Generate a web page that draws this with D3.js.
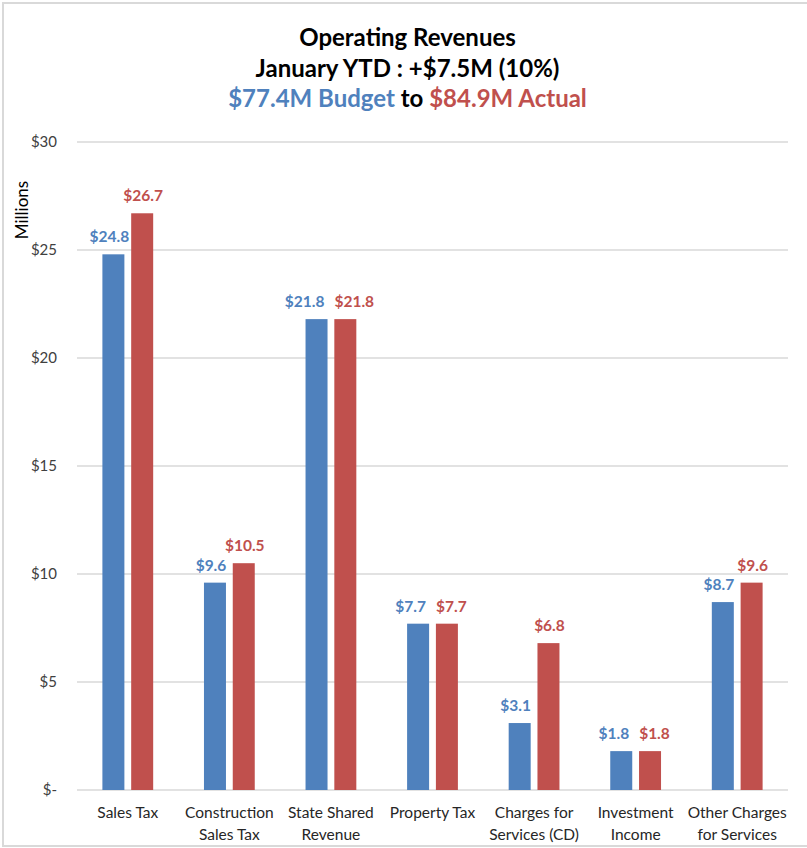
<!DOCTYPE html>
<html>
<head>
<meta charset="utf-8">
<script src="https://cdn.jsdelivr.net/npm/d3@7"></script>
<style>
  html, body { margin: 0; padding: 0; background: #fff; }
  svg { display: block; font-family: Lato, "Open Sans", sans-serif; }
</style>
</head>
<body>
<svg id="chart" width="807" height="848"></svg>
<script>
// Operating revenues by source, January YTD (millions of dollars)
const categories = [
  ["Sales Tax"],
  ["Construction", "Sales Tax"],
  ["State Shared", "Revenue"],
  ["Property Tax"],
  ["Charges for", "Services (CD)"],
  ["Investment", "Income"],
  ["Other Charges", "for Services"]
];
const budget = [24.8, 9.6, 21.8, 7.7, 3.1, 1.8, 8.7];
const actual = [26.7, 10.5, 21.8, 7.7, 6.8, 1.8, 9.6];
const seriesNames = ["Budget", "Actual"];
const yTicks = [0, 5, 10, 15, 20, 25, 30];
const titleLines = ["Operating Revenues", "January YTD : +$7.5M (10%)"];
const subtitleParts = [["$77.4M Budget", "Budget"], [" to ", null], ["$84.9M Actual", "Actual"]];

const colors = { Budget: "#4f81bd", Actual: "#c0504d" };

const svg = d3.select("#chart");
const W = 807, H = 848;
const margin = { top: 142, right: 19, bottom: 58, left: 77 };
const plotW = W - margin.left - margin.right;
const plotH = H - margin.top - margin.bottom;

// outer frame
svg.append("rect")
  .attr("x", 3).attr("y", 3)
  .attr("width", W + 10).attr("height", H - 5)
  .attr("fill", "none").attr("stroke", "#d9d9d9").attr("stroke-width", 2);

// titles
const title = svg.append("g").attr("text-anchor", "middle").attr("font-weight", "bold");
title.selectAll("text.t").data(titleLines).join("text")
  .attr("class", "t")
  .attr("x", W / 2 + 4)
  .attr("y", (d, i) => 46 + i * 31)
  .attr("font-size", 24)
  .attr("fill", "#000")
  .text(d => d);
const sub = title.append("text")
  .attr("x", W / 2 + 4).attr("y", 107).attr("font-size", 24);
sub.selectAll("tspan").data(subtitleParts).join("tspan")
  .attr("fill", d => d[1] ? colors[d[1]] : "#000")
  .text(d => d[0]);

const g = svg.append("g").attr("transform", `translate(${margin.left},${margin.top})`);

const y = d3.scaleLinear().domain([0, 30]).range([plotH, 0]);
const x0 = d3.scaleBand().domain(d3.range(categories.length))
  .range([0, plotW]).paddingInner(0.5).paddingOuter(0.25);
const x1 = d3.scaleBand().domain(seriesNames)
  .range([0, x0.bandwidth()]).paddingInner(0.236);

// gridlines
g.append("g")
  .selectAll("line").data(yTicks).join("line")
  .attr("x1", 0).attr("x2", plotW)
  .attr("y1", d => y(d)).attr("y2", d => y(d))
  .attr("stroke", "#d9d9d9").attr("stroke-width", 1.6);

// y axis labels
const yAxis = d3.axisLeft(y).tickValues(yTicks)
  .tickSize(0).tickPadding(20)
  .tickFormat(d => d === 0 ? "$-" : "$" + d);
g.append("g").call(yAxis)
  .call(s => s.select(".domain").remove())
  .selectAll("text")
  .attr("font-family", "Lato, sans-serif")
  .attr("font-size", 15)
  .attr("fill", "#404040");

// axis title
svg.append("text")
  .attr("transform", "translate(28,210) rotate(-90)")
  .attr("text-anchor", "middle")
  .attr("font-size", 17)
  .attr("fill", "#000")
  .text("Millions");

// bars
const rows = categories.map((c, i) => ({ i, Budget: budget[i], Actual: actual[i] }));
const groups = g.append("g").selectAll("g").data(rows).join("g")
  .attr("transform", d => `translate(${x0(d.i)},0)`);
groups.selectAll("rect")
  .data(d => seriesNames.map(k => ({ key: k, value: d[k] })))
  .join("rect")
  .attr("x", d => x1(d.key))
  .attr("width", x1.bandwidth())
  .attr("y", d => y(d.value))
  .attr("height", d => y(0) - y(d.value))
  .attr("fill", d => colors[d.key]);

// value labels above bars, pushed apart when a pair would collide
const labelGap = 10;
groups.each(function (d) {
  const grp = d3.select(this);
  const texts = seriesNames.map(k => {
    return grp.append("text")
      .attr("text-anchor", "middle")
      .attr("font-size", 15.5)
      .attr("font-weight", "bold")
      .attr("fill", colors[k])
      .attr("x", x1(k) + x1.bandwidth() / 2 + (k === "Budget" ? -4 : 1))
      .attr("y", y(d[k]) - 12)
      .text("$" + d3.format(".1f")(d[k]));
  });
  const [b, a] = texts.map(t => t.node().getBBox());
  const sameRow = Math.abs(b.y - a.y) < b.height;
  const overlap = b.x + b.width + labelGap - a.x;
  if (sameRow && overlap > 0) {
    texts[0].attr("x", +texts[0].attr("x") - overlap / 2);
    texts[1].attr("x", +texts[1].attr("x") + overlap / 2);
  }
});

// category labels
const xAxis = g.append("g").attr("transform", `translate(0,${plotH})`);
xAxis.selectAll("text").data(rows).join("text")
  .attr("text-anchor", "middle")
  .attr("font-size", 15.5)
  .attr("fill", "#262626")
  .attr("x", d => x0(d.i) + x0.bandwidth() / 2)
  .attr("y", 28)
  .selectAll("tspan").data(d => categories[d.i]).join("tspan")
  .attr("x", function () { return d3.select(this.parentNode).attr("x"); })
  .attr("dy", (d, i) => i === 0 ? 0 : 22)
  .text(d => d);
</script>
</body>
</html>
